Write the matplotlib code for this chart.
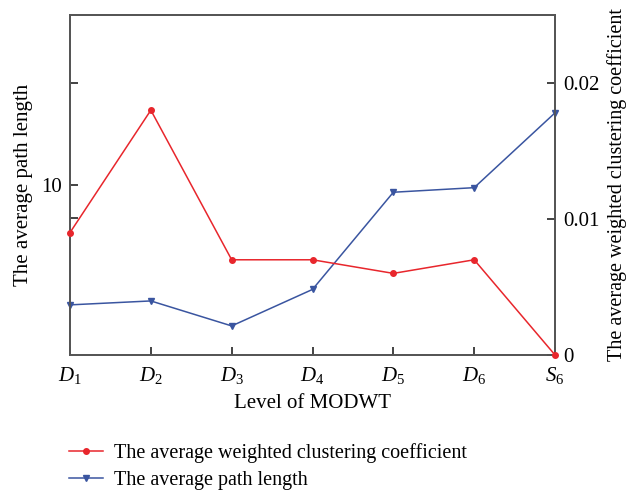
import numpy as np
import matplotlib.pyplot as plt
from matplotlib.ticker import FixedLocator, FixedFormatter, NullLocator
from matplotlib.lines import Line2D

plt.rcParams['font.family'] = 'Liberation Serif'
plt.rcParams['mathtext.fontset'] = 'custom'
plt.rcParams['mathtext.rm'] = 'Liberation Serif'
plt.rcParams['mathtext.it'] = 'Liberation Serif:italic'

# MODWT levels
levels = [r'$D_\mathrm{1}$', r'$D_\mathrm{2}$', r'$D_\mathrm{3}$', r'$D_\mathrm{4}$',
          r'$D_\mathrm{5}$', r'$D_\mathrm{6}$', r'$S_\mathrm{6}$']
path_length = [4.44, 4.56, 3.85, 4.93, 9.52, 9.82, 16.3]
clustering = [0.0090, 0.0180, 0.0070, 0.0070, 0.0060, 0.0070, 0.0]

red = '#e8262c'
blue = '#3a55a0'
spine_col = '#555555'

fig = plt.figure(figsize=(6.29, 4.94), dpi=100)
ax = fig.add_axes([0.1113, 0.2814, 0.7711, 0.6883])
ax2 = ax.twinx()

x = np.arange(len(levels))
ax.plot(x, path_length, color=blue, lw=1.1, marker='v', ms=4, clip_on=False, zorder=3)
ax2.plot(x, clustering, color=red, lw=1.1, marker='o', ms=4, clip_on=False, zorder=3)

ax.set_xlim(0, len(levels) - 1)
ax.set_yscale('log')
ax.set_ylim(10 ** 0.5, 10 ** 1.5)
ax.yaxis.set_major_locator(FixedLocator([8, 10, 20]))
ax.yaxis.set_major_formatter(FixedFormatter(['', '10', '']))
ax.yaxis.set_minor_locator(NullLocator())
ax.set_xticks(x)
ax.set_xticklabels(levels, fontsize=16)

ax2.set_ylim(0, 0.025)
ax2.set_yticks([0, 0.01, 0.02])
ax2.set_yticklabels(['0', '0.01', '0.02'])

for a in (ax, ax2):
    for s in a.spines.values():
        s.set_color(spine_col)
        s.set_linewidth(1.3)
    a.tick_params(direction='in', length=6, width=1.2, color='#222222',
                  labelsize=15, pad=6)
ax.tick_params(axis='x', pad=7)

ax.set_xlabel('Level of MODWT', fontsize=15, labelpad=6)
ax.set_ylabel('The average path length', fontsize=15, labelpad=6)
ax2.set_ylabel('The average weighted clustering coefficient', fontsize=14.5, labelpad=5)

handles = [
    Line2D([], [], color=red, lw=1.1, marker='o', ms=4),
    Line2D([], [], color=blue, lw=1.1, marker='v', ms=4),
]
fig.legend(handles, ['The average weighted clustering coefficient', 'The average path length'],
           loc='upper left', bbox_to_anchor=(0.094, 0.124), frameon=False,
           fontsize=14.5, handlelength=1.7, handletextpad=0.5, labelspacing=0.4,
           borderpad=0)

fig.savefig('out.png', dpi=100)
